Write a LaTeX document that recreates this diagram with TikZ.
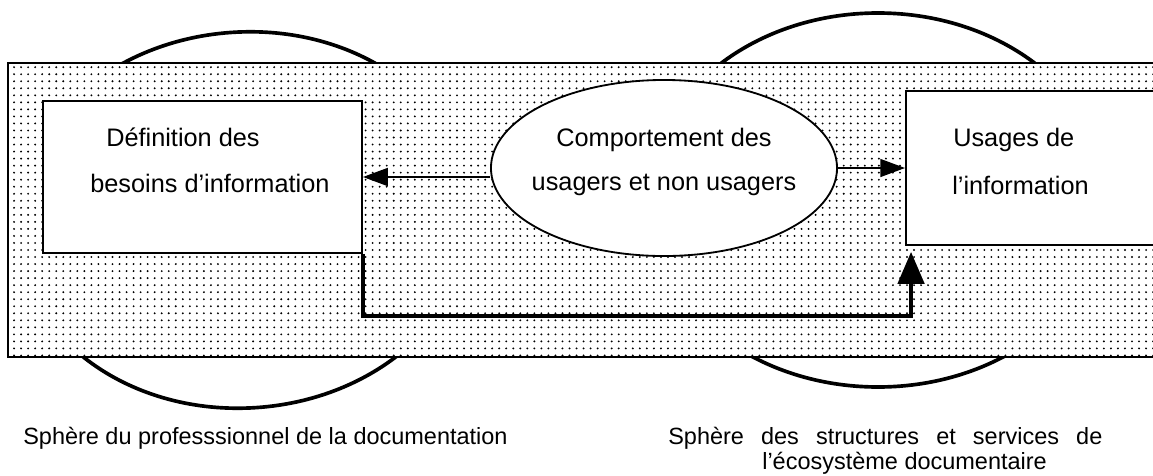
\documentclass[tikz,border=0pt]{standalone}
\usepackage{fontspec}
\setmainfont{Liberation Sans}
\usetikzlibrary{arrows.meta,patterns.meta,shapes.geometric}

\begin{document}
\begin{tikzpicture}
	 [x=0.025cm,y=-0.025cm,
	  sphere/.style={line width=2.6pt},
	  bande/.style={line width=1.3pt,pattern={Dots[distance=5pt,radius=0.75pt]}},
	  boite/.style={draw,fill=white,line width=1.3pt,inner sep=0pt},
	  texte/.style={font=\fontsize{18}{21}\selectfont,inner sep=0pt},
	  legende/.style={font=\fontsize{16.7}{20}\selectfont,inner sep=0pt},
	  fleche/.style={line width=1.1pt,-{Triangle[length=0.62cm,width=0.45cm]}},
	  lien/.style={line width=2.6pt,-{Triangle[length=0.8cm,width=0.66cm]},shorten >=0.15cm}]

	\useasboundingbox (0,0) rectangle (1153,475);
	\clip (0,0) rectangle (1153,475);

	% les deux spheres
	\draw[sphere,rotate around={4:(244,220)}] (244,220) ellipse [x radius=228, y radius=188];
	\draw[sphere] (878,200) ellipse [x radius=230, y radius=187];

	\fill[white] (8,63) rectangle (1180,357);
	\draw[bande] (8,63) rectangle (1180,357);

	  \node[boite,minimum width=7.975cm,minimum height=3.8cm] (defbox) at (202.5,177) {};
	  \node[boite,minimum width=6.85cm,minimum height=3.85cm] (usabox) at (1043,168) {};
	  \node[boite,ellipse,minimum width=8.65cm,minimum height=4.4cm] (comp) at (664,168) {};

	  \node[texte,anchor=base west] (def1) at (106,146) {Définition des};
	  \node[texte,anchor=base west] (def2) at (90,192) {besoins d’information};
	  \node[texte,anchor=base] (comp1) at (664,146) {Comportement des};
	  \node[texte,anchor=base] (comp2) at (664,190) {usagers et non usagers};
	  \node[texte,anchor=base west] (usa1) at (953,146) {Usages de};
	  \node[texte,anchor=base west] (usa2) at (952,194) {l’information};

	\draw[fleche] (comp.west |- defbox.east) -- (defbox.east);
	\draw[fleche] (comp.east |- usabox.west) -- (usabox.west);
	\draw[lien] (defbox.south east) -- ++(0,62) -| ([xshift=0.15cm]usabox.south west);

	  \node[legende,anchor=base west] (sph1) at (23,444) {Sphère du professsionnel de la documentation};
	  \node[legende,anchor=base west] (sph2) at (668,444) {\makebox[10.85cm][s]{Sphère des structures et services de}};
	  \node[legende,anchor=base west] (sph3) at (762,469) {l’écosystème documentaire};

\end{tikzpicture}
\end{document}
